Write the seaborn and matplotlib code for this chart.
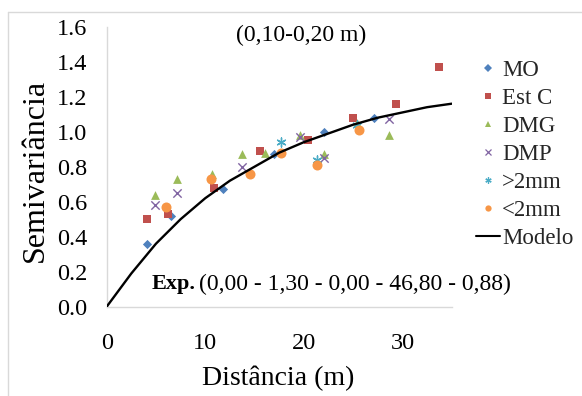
import matplotlib
matplotlib.use("Agg")
import matplotlib.pyplot as plt
from matplotlib.lines import Line2D
import seaborn as sns
import pandas as pd

mo_dist = [4.1, 6.5, 11.8, 17.0, 22.0, 27.1]
mo_val = [0.36, 0.52, 0.67, 0.87, 1.00, 1.08]

estc_dist = [4.1, 6.2, 10.9, 15.6, 20.4, 25.0, 29.4, 33.7]
estc_val = [0.50, 0.53, 0.68, 0.89, 0.95, 1.08, 1.16, 1.37]

dmg_dist = [4.9, 7.1, 10.7, 13.7, 16.1, 19.6, 22.0, 25.4, 28.6]
dmg_val = [0.64, 0.73, 0.76, 0.87, 0.88, 0.98, 0.87, 1.05, 0.98]

dmp_dist = [4.9, 7.1, 13.7, 19.6, 22.0, 28.6]
dmp_val = [0.58, 0.65, 0.80, 0.97, 0.85, 1.07]

gt2_dist = [17.7, 21.3, 25.4]
gt2_val = [0.94, 0.84, 1.04]

lt2_dist = [6.0, 10.6, 14.5, 17.7, 21.3, 25.6]
lt2_val = [0.57, 0.73, 0.76, 0.88, 0.81, 1.01]

# fitted model curve
model_dist = [0, 2.5, 5, 7.5, 10, 12.5, 15, 17.5, 20, 22.5, 25, 27.5, 30, 32.5, 35]
model_val = [0.0, 0.19, 0.36, 0.50, 0.62, 0.72, 0.80, 0.88, 0.94, 0.99, 1.04, 1.08, 1.11, 1.14, 1.16]

series = [
    ("MO", mo_dist, mo_val, "D", "#4F81BD", 22),
    ("Est C", estc_dist, estc_val, "s", "#C0504D", 34),
    ("DMG", dmg_dist, dmg_val, "^", "#9BBB59", 40),
    ("DMP", dmp_dist, dmp_val, "x", "#8064A2", 36),
    (">2mm", gt2_dist, gt2_val, (6, 2, 0), "#4BACC6", 42),
    ("<2mm", lt2_dist, lt2_val, "o", "#F79646", 52),
]

sns.set_theme(style="white")
plt.rcParams["font.family"] = ["Liberation Serif", "DejaVu Serif"]

fig = plt.figure(figsize=(5.82, 3.96), dpi=100)
ax = fig.add_axes([0.1833, 0.2255, 0.5928, 0.7071])

handles = []
for name, xs, ys, mk, col, sz in series:
    df = pd.DataFrame({"dist": xs, "gamma": ys})
    if mk in ("x", (6, 2, 0)):
        sns.scatterplot(data=df, x="dist", y="gamma", marker=mk, color=col, s=sz,
                        linewidth=1.0, ax=ax, zorder=3)
        handles.append(Line2D([], [], linestyle="none", marker=mk, color=col,
                              markersize=4.5, markeredgewidth=0.9, label=name))
    else:
        sns.scatterplot(data=df, x="dist", y="gamma", marker=mk, color=col, s=sz,
                        linewidth=0, ax=ax, zorder=3)
        handles.append(Line2D([], [], linestyle="none", marker=mk, color=col,
                              markeredgewidth=0, markersize=4.5, label=name))

model_df = pd.DataFrame({"dist": model_dist, "gamma": model_val})
sns.lineplot(data=model_df, x="dist", y="gamma", color="black", linewidth=1.7, ax=ax, zorder=4)
handles.append(Line2D([], [], color="black", linewidth=1.5, label="Modelo"))

ax.set_xlim(0, 35)
ax.set_ylim(0, 1.6)
ax.set_xticks([0, 10, 20, 30])
ax.set_yticks([0.0, 0.2, 0.4, 0.6, 0.8, 1.0, 1.2, 1.4, 1.6])
ax.set_yticklabels([f"{v:.1f}" for v in ax.get_yticks()])
ax.tick_params(axis="x", length=0, pad=19, labelsize=17.5, colors="black")
ax.tick_params(axis="y", length=0, pad=14, labelsize=17.5, colors="black")

for side in ["top", "right"]:
    ax.spines[side].set_visible(False)
for side in ["left", "bottom"]:
    ax.spines[side].set_color("#D9D9D9")
    ax.spines[side].set_linewidth(1)

ax.set_xlabel("Distância (m)", fontsize=20, color="black")
ax.set_ylabel("Semivariância", fontsize=23, color="black")
ax.xaxis.set_label_coords(0.497, -0.212)
ax.yaxis.set_label_coords(-0.166, 0.485)

ax.text(0.563, 0.967, "(0,10-0,20 m)", transform=ax.transAxes, ha="center",
        va="center", fontsize=17, color="black")
ax.text(0.131, 0.081, "Exp.", transform=ax.transAxes, ha="left", va="center",
        fontsize=16, fontweight="bold", color="black")
ax.text(0.268, 0.081, "(0,00 - 1,30 - 0,00 - 46,80 - 0,88)", transform=ax.transAxes,
        ha="left", va="center", fontsize=17, color="black")

fig.legend(handles=handles, loc="upper left", bbox_to_anchor=(0.8175, 0.8475),
           frameon=False, fontsize=16.5, handlelength=1.05, handletextpad=0.1,
           labelspacing=0.30, borderpad=0, borderaxespad=0)

# light chart-area border (top and left edges visible in the reference)
fig.add_artist(Line2D([8 / 582, 1], [1 - 12 / 396, 1 - 12 / 396], color="#D9D9D9",
                      linewidth=1, transform=fig.transFigure))
fig.add_artist(Line2D([8 / 582, 8 / 582], [0, 1 - 12 / 396], color="#D9D9D9",
                      linewidth=1, transform=fig.transFigure))

fig.savefig("out.png", dpi=100, facecolor="white")
